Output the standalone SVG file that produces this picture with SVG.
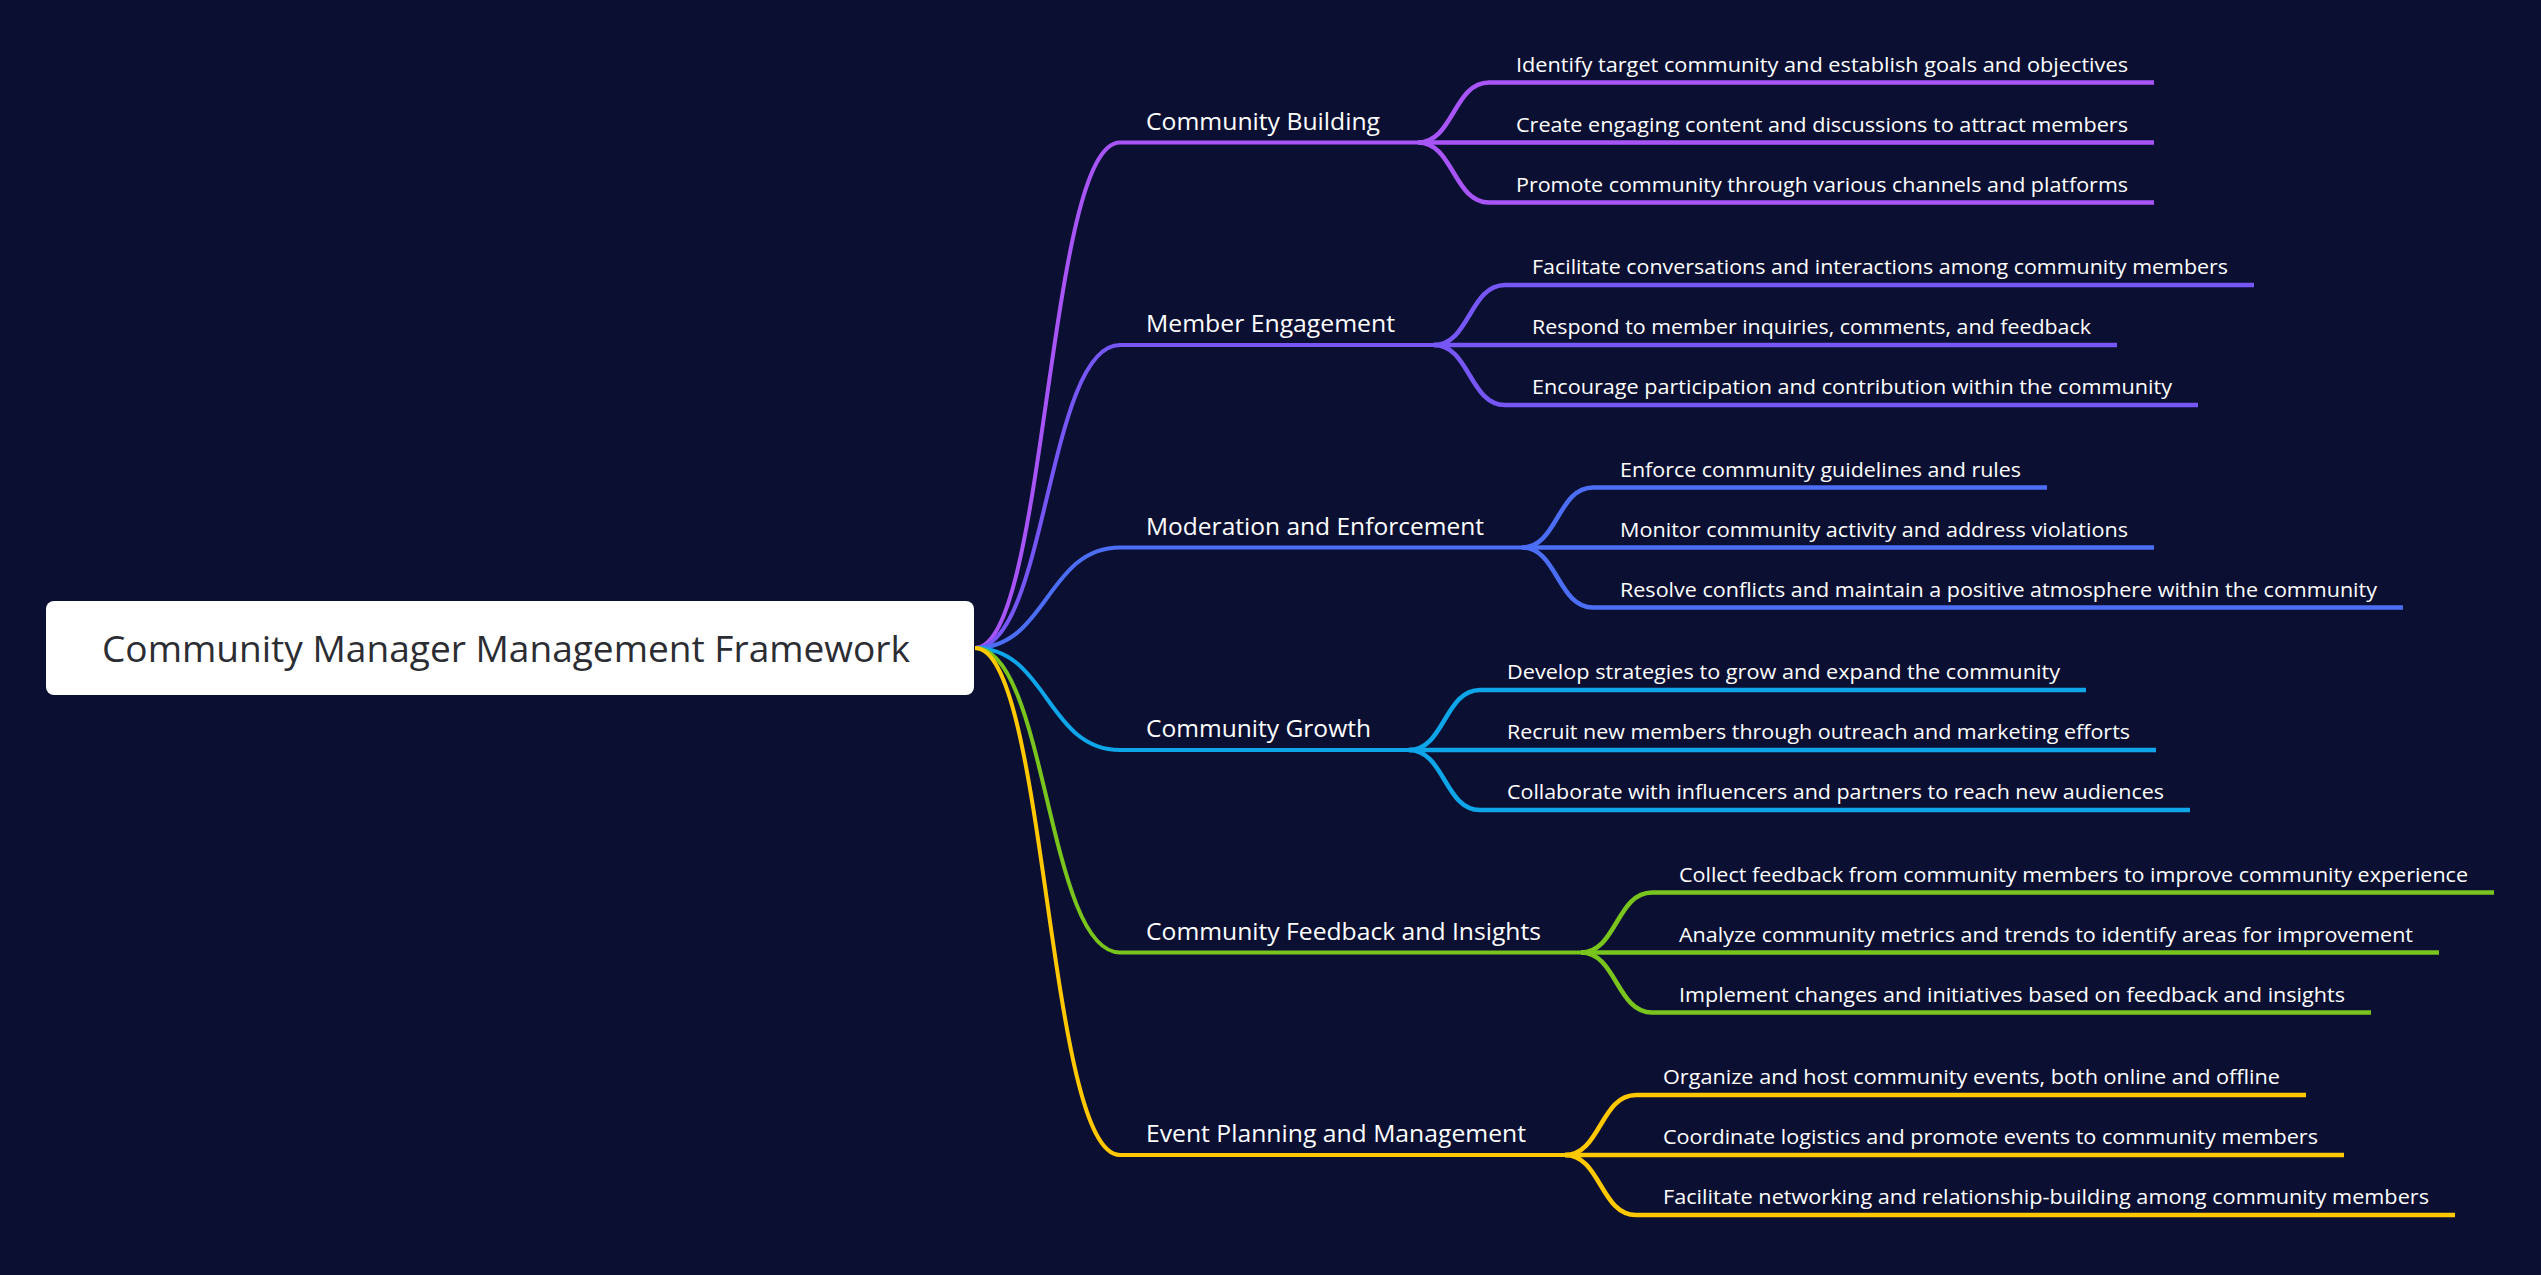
<svg xmlns="http://www.w3.org/2000/svg" width="2541" height="1275" viewBox="0 0 2541 1275">
<style>
.bg{fill:#0b0f32}
.lk{fill:none;stroke-width:4.5;stroke-linecap:butt}
.rt{stroke-width:4}
.t{font-family:"Open Sans","Noto Sans","DejaVu Sans",sans-serif;fill:#ffffff}
.br{font-size:23px}
.ch{font-size:20.5px}
.root{font-family:"Open Sans","Noto Sans","DejaVu Sans",sans-serif;font-size:36.5px;fill:#2b2d33}
.c1{stroke:#a855f7}.c2{stroke:#7657f5}.c3{stroke:#4c6ef5}.c4{stroke:#0ea5e9}.c5{stroke:#7ac41e}.c6{stroke:#ffc800}
</style>
<rect class="bg" x="0" y="0" width="2541" height="1275"/>
<g id="connectors">
  <path class="lk rt c1" d="M975 648 C1047 648 1047 142.5 1120 142.5 L1418 142.5"/>
  <path class="lk rt c2" d="M975 648 C1047 648 1047 345 1120 345 L1434 345"/>
  <path class="lk rt c3" d="M975 648 C1047 648 1047 547.5 1120 547.5 L1522 547.5"/>
  <path class="lk rt c4" d="M975 648 C1047 648 1047 750 1120 750 L1409 750"/>
  <path class="lk rt c5" d="M975 648 C1047 648 1047 952.5 1120 952.5 L1581 952.5"/>
  <path class="lk rt c6" d="M975 648 C1047 648 1047 1155 1120 1155 L1565 1155"/>

  <path class="lk c1" d="M1418 142.5 C1453.5 142.5 1453.5 82.5 1489 82.5 L2154 82.5"/>
  <path class="lk c1" d="M1418 142.5 L2154 142.5"/>
  <path class="lk c1" d="M1418 142.5 C1453.5 142.5 1453.5 202.5 1489 202.5 L2154 202.5"/>

  <path class="lk c2" d="M1434 345 C1469.5 345 1469.5 285 1505 285 L2254 285"/>
  <path class="lk c2" d="M1434 345 L2117 345"/>
  <path class="lk c2" d="M1434 345 C1469.5 345 1469.5 405 1505 405 L2198 405"/>

  <path class="lk c3" d="M1522 547.5 C1557.5 547.5 1557.5 487.5 1593 487.5 L2047 487.5"/>
  <path class="lk c3" d="M1522 547.5 L2154 547.5"/>
  <path class="lk c3" d="M1522 547.5 C1557.5 547.5 1557.5 607.5 1593 607.5 L2403 607.5"/>

  <path class="lk c4" d="M1409 750 C1444.5 750 1444.5 690 1480 690 L2086 690"/>
  <path class="lk c4" d="M1409 750 L2156 750"/>
  <path class="lk c4" d="M1409 750 C1444.5 750 1444.5 810 1480 810 L2190 810"/>

  <path class="lk c5" d="M1581 952.5 C1616.5 952.5 1616.5 892.5 1652 892.5 L2494 892.5"/>
  <path class="lk c5" d="M1581 952.5 L2439 952.5"/>
  <path class="lk c5" d="M1581 952.5 C1616.5 952.5 1616.5 1012.5 1652 1012.5 L2371 1012.5"/>

  <path class="lk c6" d="M1565 1155 C1600.5 1155 1600.5 1095 1636 1095 L2306 1095"/>
  <path class="lk c6" d="M1565 1155 L2344 1155"/>
  <path class="lk c6" d="M1565 1155 C1600.5 1155 1600.5 1215 1636 1215 L2455 1215"/>
</g>

<g id="root">
  <rect x="46" y="601" width="928" height="94" rx="8" fill="#ffffff"/>
  <text class="root" x="102" y="662" textLength="808" lengthAdjust="spacingAndGlyphs">Community Manager Management Framework</text>
</g>

<g id="branch-community-building">
  <text class="t br" x="1146" y="129.5" textLength="234" lengthAdjust="spacingAndGlyphs">Community Building</text>
</g>
<g id="cb-1"><text class="t ch" x="1516" y="71.5" textLength="612" lengthAdjust="spacingAndGlyphs">Identify target community and establish goals and objectives</text></g>
<g id="cb-2"><text class="t ch" x="1516" y="131.5" textLength="612" lengthAdjust="spacingAndGlyphs">Create engaging content and discussions to attract members</text></g>
<g id="cb-3"><text class="t ch" x="1516" y="191.5" textLength="612" lengthAdjust="spacingAndGlyphs">Promote community through various channels and platforms</text></g>

<g id="branch-member-engagement">
  <text class="t br" x="1146" y="332" textLength="249" lengthAdjust="spacingAndGlyphs">Member Engagement</text>
</g>
<g id="me-1"><text class="t ch" x="1532" y="274" textLength="696" lengthAdjust="spacingAndGlyphs">Facilitate conversations and interactions among community members</text></g>
<g id="me-2"><text class="t ch" x="1532" y="334" textLength="559" lengthAdjust="spacingAndGlyphs">Respond to member inquiries, comments, and feedback</text></g>
<g id="me-3"><text class="t ch" x="1532" y="394" textLength="640" lengthAdjust="spacingAndGlyphs">Encourage participation and contribution within the community</text></g>

<g id="branch-moderation">
  <text class="t br" x="1146" y="534.5" textLength="338" lengthAdjust="spacingAndGlyphs">Moderation and Enforcement</text>
</g>
<g id="mod-1"><text class="t ch" x="1620" y="476.5" textLength="401" lengthAdjust="spacingAndGlyphs">Enforce community guidelines and rules</text></g>
<g id="mod-2"><text class="t ch" x="1620" y="536.5" textLength="508" lengthAdjust="spacingAndGlyphs">Monitor community activity and address violations</text></g>
<g id="mod-3"><text class="t ch" x="1620" y="596.5" textLength="757" lengthAdjust="spacingAndGlyphs">Resolve conflicts and maintain a positive atmosphere within the community</text></g>

<g id="branch-community-growth">
  <text class="t br" x="1146" y="737" textLength="225" lengthAdjust="spacingAndGlyphs">Community Growth</text>
</g>
<g id="gr-1"><text class="t ch" x="1507" y="679" textLength="553" lengthAdjust="spacingAndGlyphs">Develop strategies to grow and expand the community</text></g>
<g id="gr-2"><text class="t ch" x="1507" y="739" textLength="623" lengthAdjust="spacingAndGlyphs">Recruit new members through outreach and marketing efforts</text></g>
<g id="gr-3"><text class="t ch" x="1507" y="799" textLength="657" lengthAdjust="spacingAndGlyphs">Collaborate with influencers and partners to reach new audiences</text></g>

<g id="branch-feedback">
  <text class="t br" x="1146" y="939.5" textLength="395" lengthAdjust="spacingAndGlyphs">Community Feedback and Insights</text>
</g>
<g id="fb-1"><text class="t ch" x="1679" y="881.5" textLength="789" lengthAdjust="spacingAndGlyphs">Collect feedback from community members to improve community experience</text></g>
<g id="fb-2"><text class="t ch" x="1679" y="941.5" textLength="734" lengthAdjust="spacingAndGlyphs">Analyze community metrics and trends to identify areas for improvement</text></g>
<g id="fb-3"><text class="t ch" x="1679" y="1001.5" textLength="666" lengthAdjust="spacingAndGlyphs">Implement changes and initiatives based on feedback and insights</text></g>

<g id="branch-event">
  <text class="t br" x="1146" y="1142" textLength="380" lengthAdjust="spacingAndGlyphs">Event Planning and Management</text>
</g>
<g id="ev-1"><text class="t ch" x="1663" y="1084" textLength="617" lengthAdjust="spacingAndGlyphs">Organize and host community events, both online and offline</text></g>
<g id="ev-2"><text class="t ch" x="1663" y="1144" textLength="655" lengthAdjust="spacingAndGlyphs">Coordinate logistics and promote events to community members</text></g>
<g id="ev-3"><text class="t ch" x="1663" y="1204" textLength="766" lengthAdjust="spacingAndGlyphs">Facilitate networking and relationship-building among community members</text></g>
</svg>
